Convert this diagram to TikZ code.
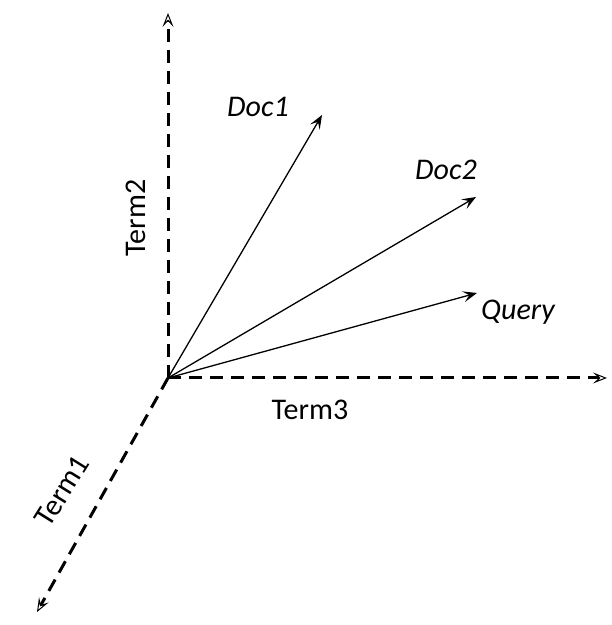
\documentclass[tikz,border=0pt]{standalone}
\usepackage{fontspec}
\setmainfont{Carlito}
\usetikzlibrary{arrows.meta, positioning, calc}

\begin{document}
\begin{tikzpicture}[x=1pt,y=1pt,
  axis/.style={line width=3pt, dash pattern=on 13pt off 8pt, -{Stealth[length=14pt,width=11pt,inset=6pt,line width=1pt,open]}},
  vec/.style={line width=1.3pt, -{Stealth[length=14pt,width=11pt,inset=6pt]}},
  lbl/.style={font=\fontsize{30}{34}\selectfont}]
\useasboundingbox (0,0) rectangle (612,625);
% origin and axis ends
\coordinate (O) at (168,247);
\coordinate (t1) at (37,13);
\coordinate (t2) at (168,612);
\coordinate (t3) at (607,247);
\draw[axis] (O) -- (t2);
\draw[axis] (O) -- (t3);
\draw[axis] (O) -- (t1);
\node[lbl, rotate=90] (term2) at (136,407) {Term2};
\node[lbl] (term3) at (310,215) {Term3};
\node[lbl, rotate=58] (term1) at (62,134) {Term1};

% vectors
\coordinate (d1) at (322,510);
\coordinate (d2) at (476,428);
\coordinate (q) at (477,332);
\foreach \e in {d1,d2,q}
  \draw[vec] (O) -- (\e);
\node[lbl] (doc1) at (258,518) {\itshape Doc1};
\node[lbl] (doc2) at (446,455) {\itshape Doc2};
\node[lbl] (query) at (518,313) {\itshape Query};
\end{tikzpicture}
\end{document}
